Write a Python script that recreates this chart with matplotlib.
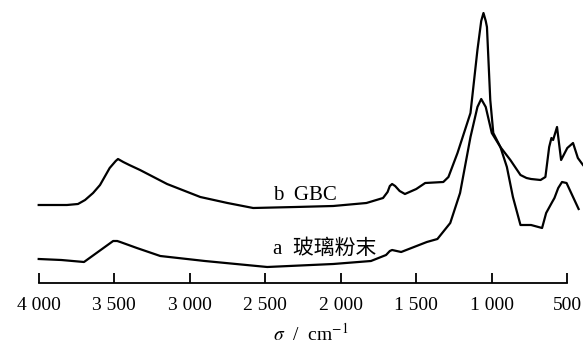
import matplotlib
matplotlib.use('Agg')
import matplotlib.pyplot as plt
import numpy as np

plt.rcParams['font.family'] = ['Liberation Serif', 'Noto Sans CJK SC', 'DejaVu Sans']
plt.rcParams['mathtext.fontset'] = 'stix'

# spectrum b (GBC): wavenumber, relative absorbance
wn_b = [4000, 3813, 3740, 3693, 3640, 3594, 3530, 3490, 3475, 3440, 3400, 3329, 3150, 2930,
        2750, 2580, 2300, 2050,
        1830, 1720, 1690, 1675, 1660, 1640, 1610, 1575, 1500, 1441, 1321, 1287, 1227, 1141,
        1095, 1070, 1055, 1040, 1032, 1010, 990, 943, 877, 810, 770, 740, 677, 645, 620,
        605, 594, 580, 568, 555, 541, 500, 462, 430, 396]
ab_b = [78, 78, 79, 83, 90, 98, 115, 122, 124, 121, 118, 113, 99, 86,
        80, 75, 76, 77,
        80, 85, 91, 97, 99, 97, 92, 89, 94, 100, 101, 106, 130, 170,
        233, 262, 270, 262, 256, 183, 150, 136, 123, 108, 105, 104, 103, 106, 136,
        145, 143, 150, 156, 140, 123, 135, 140, 125, 118]

# spectrum a (glass powder)
wn_a = [4000, 3850, 3700, 3507, 3480, 3460, 3350, 3195, 2900, 2487, 2050, 1800, 1700, 1675,
        1660, 1630, 1600, 1430, 1360, 1275, 1210, 1141, 1095, 1070, 1040, 1000, 943, 900,
        860, 810, 740, 667, 640, 600, 585, 560, 535, 505, 425]
ab_a = [24, 23, 21, 42, 42, 41, 35, 27, 22, 16, 19, 22, 28, 32,
        33, 32, 31, 41, 44, 60, 90, 146, 176, 184, 176, 150, 136, 116,
        86, 58, 58, 55, 70, 81, 85, 95, 101, 100, 74]

xticks = [4000, 3500, 3000, 2500, 2000, 1500, 1000, 500]
xticklabels = ['4 000', '3 500', '3 000', '2 500', '2 000', '1 500', '1 000', '500']

fig = plt.figure(figsize=(5.83, 3.45), dpi=100)
ax = fig.add_axes([38.7 / 583, 62 / 345, 1 - 38.7 / 583, 283 / 345])

ax.plot(wn_b, ab_b, color='black', lw=1.6, clip_on=False)
ax.plot(wn_a, ab_a, color='black', lw=1.6, clip_on=False)

ax.text(2448, 88, 'b  GBC', fontsize=15, va='center', ha='left')
ax.text(2448, 34, 'a  玻璃粉末', fontsize=15, va='center', ha='left')

ax.set_xlim(4000, 396)
ax.set_ylim(0, 283)
ax.set_xticks(xticks)
ax.set_xticklabels(xticklabels, fontsize=14)
ax.set_yticks([])
for s in ['top', 'right', 'left']:
    ax.spines[s].set_visible(False)
ax.spines['bottom'].set_bounds(500, 4000)
ax.spines['bottom'].set_linewidth(1.3)
ax.tick_params(axis='x', direction='in', length=7, width=1.3, pad=10)
ax.set_xlabel(r'$\sigma$  /  cm$^{-1}$', fontsize=14, labelpad=6)
ax.patch.set_visible(False)

fig.savefig('out.png', dpi=100)
